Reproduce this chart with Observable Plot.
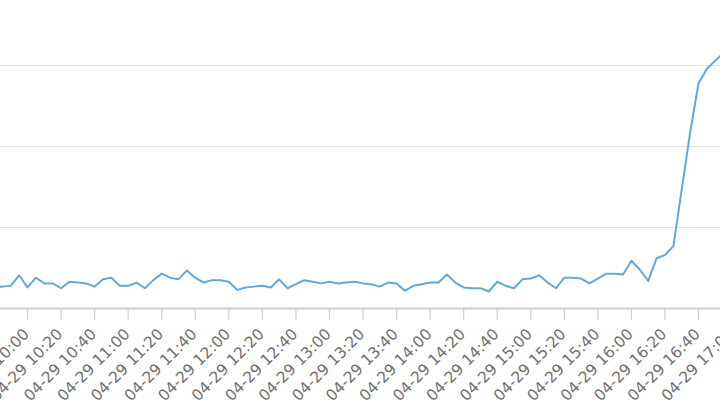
<!DOCTYPE html>
<html><head><meta charset="utf-8">
<script src="https://cdn.jsdelivr.net/npm/d3@7"></script>
<script src="https://cdn.jsdelivr.net/npm/@observablehq/plot@0.6"></script>
<style>html,body{margin:0;padding:0;background:#fff;overflow:hidden}</style>
</head><body><div id="chart"></div>
<script>
const day = "2019-04-29";
const times = [
 "09:40","09:45","09:50","09:55",
 "10:00","10:05","10:10","10:15","10:20","10:25","10:30","10:35","10:40","10:45","10:50","10:55",
 "11:00","11:05","11:10","11:15","11:20","11:25","11:30","11:35","11:40","11:45","11:50","11:55",
 "12:00","12:05","12:10","12:15","12:20","12:25","12:30","12:35","12:40","12:45","12:50","12:55",
 "13:00","13:05","13:10","13:15","13:20","13:25","13:30","13:35","13:40","13:45","13:50","13:55",
 "14:00","14:05","14:10","14:15","14:20","14:25","14:30","14:35","14:40","14:45","14:50","14:55",
 "15:00","15:05","15:10","15:15","15:20","15:25","15:30","15:35","15:40","15:45","15:50","15:55",
 "16:00","16:05","16:10","16:15","16:20","16:25","16:30","16:35","16:40","16:45","16:50","16:55"
];
const values = [
 27,27,28,41,
 26,38,31,31,25,33,32,31,27,36,38,28,
 28,32,25,35,43,38,36,47,38,32,35,35,
 33,23,26,27,28,26,36,25,30,35,33,31,
 33,31,32,33,31,30,27,32,31,22,28,30,
 32,32,42,32,26,25,25,21,33,28,25,36,
 37,41,32,25,38,38,37,31,37,43,43,42,
 59,48,34,62,66,77,147,217,278,296,306,316
];
const tickTimes = [
 "10:00","10:20","10:40","11:00","11:20","11:40","12:00","12:20","12:40","13:00","13:20",
 "13:40","14:00","14:20","14:40","15:00","15:20","15:40","16:00","16:20","16:40","17:00"
];
const gridValues = [100, 200, 300];

const parse = d3.utcParse("%Y-%m-%d %H:%M");
const data = times.map((t, i) => ({time: parse(day + " " + t), value: values[i]}));
const ticks = tickTimes.map(t => parse(day + " " + t));
const fmt = d3.utcFormat("%m-%d %H:%M");

const chart = Plot.plot({
  width: 720, height: 418,
  marginTop: 0, marginRight: 0, marginBottom: 110, marginLeft: 0,
  style: {background: "#fff", fontFamily: "'DejaVu Sans', sans-serif", overflow: "hidden"},
  x: {type: "utc", domain: [new Date("2019-04-29T09:43:54Z"), new Date("2019-04-29T16:53:06Z")], label: null},
  y: {domain: [0, 380.2], axis: null},
  marks: [
    Plot.ruleY(gridValues, {stroke: "#e2e2e2", strokeWidth: 1}),
    Plot.axisX({ticks, tickSize: 12, tickFormat: () => "", stroke: "#cfcfcf", strokeWidth: 1.2, label: null}),
    Plot.text(ticks, {x: d => d, text: d => fmt(d), frameAnchor: "bottom", dx: -1, dy: 23,
      rotate: -45, textAnchor: "end", lineAnchor: "middle", fontSize: 15.5, fill: "#707070"}),
    Plot.ruleY([0], {stroke: "#cccccc", strokeWidth: 2}),
    Plot.line(data, {x: "time", y: "value", stroke: "#62a8da", strokeWidth: 2, clip: true})
  ]
});
document.getElementById("chart").appendChild(chart);
</script>
</body></html>
